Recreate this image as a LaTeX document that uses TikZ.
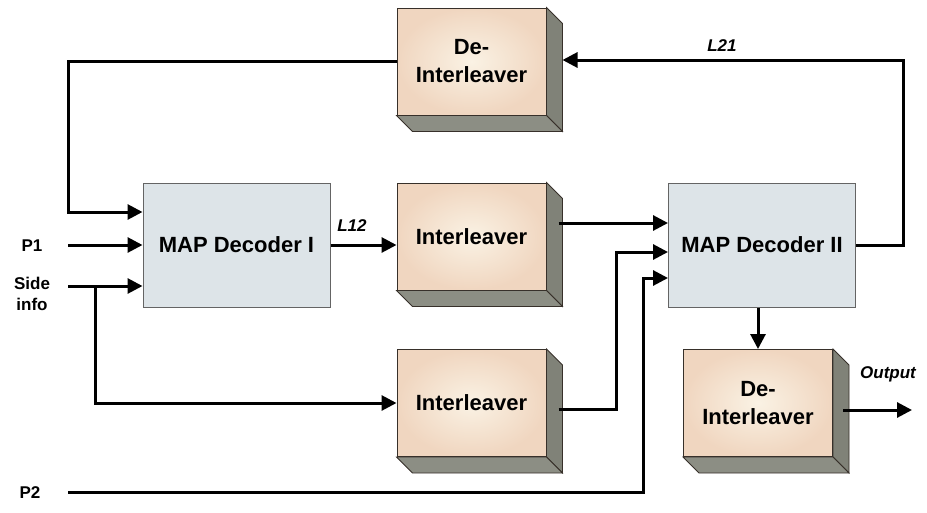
\documentclass[tikz,border=0pt]{standalone}
\usepackage{fontspec}
\setmainfont{Liberation Sans}
\usetikzlibrary{arrows.meta}
\definecolor{peach}{RGB}{240,214,192}
\definecolor{peachlight}{RGB}{250,242,228}
\definecolor{mapfill}{RGB}{221,228,232}
\definecolor{sidegray}{RGB}{128,130,120}
\definecolor{bottomgray}{RGB}{140,142,132}
\definecolor{edgecol}{RGB}{55,48,42}
\definecolor{mapedge}{RGB}{100,100,100}
\tikzset{
  blockbox/.style={draw=edgecol,line width=1pt,inner color=peachlight,outer color=peach,
    minimum width=149pt,minimum height=107pt,inner sep=0pt,align=center,
    font=\bfseries\fontsize{22}{28}\selectfont},
  mapbox/.style={draw=mapedge,line width=1pt,fill=mapfill,minimum width=187pt,minimum height=124pt,
    inner sep=0pt,font=\bfseries\fontsize{22}{27}\selectfont},
  lbl/.style={font=\bfseries\fontsize{17}{21}\selectfont,align=center,inner sep=0pt},
  ilbl/.style={font=\bfseries\itshape\fontsize{17}{21}\selectfont,inner sep=0pt},
  arr/.style={line width=3pt,-{Triangle[length=15pt,width=15pt]}},
  wire/.style={line width=3pt},
}
\newcommand{\boxsides}[1]{%
  \filldraw[fill=sidegray,draw=edgecol,line width=0.8pt] (#1.north east) -- ++(16,16) -- ([shift={(16,16)}]#1.south east) -- (#1.south east) -- cycle;
  \filldraw[fill=bottomgray,draw=edgecol,line width=0.8pt] (#1.south west) -- (#1.south east) -- ++(16,16) -- ([shift={(16,16)}]#1.south west) -- cycle;
}
\begin{document}
\begin{tikzpicture}[x=1pt,y=-1pt]
\useasboundingbox (0,0) rectangle (927,512);
% blocks
\node[blockbox] (deint1) at (471.5,61.5) {De-\\Interleaver};
\node[blockbox] (inter1) at (471.5,236.5) {Interleaver};
\node[blockbox] (inter2) at (471.5,403) {Interleaver};
\node[blockbox] (deint2) at (758,403) {De-\\Interleaver};
\boxsides{deint1}
\boxsides{inter1}
\boxsides{inter2}
\boxsides{deint2}
\node[mapbox] (map1) at (236.5,245) {MAP Decoder I};
\node[mapbox] (map2) at (762,245) {MAP Decoder II};
% labels
\node[lbl] (p1) at (32,246) {P1};
\node[lbl] (side) at (32,294) {Side\\info};
\node[lbl] (p2) at (30,493) {P2};
\node[ilbl] (l12) at (352,226) {L12};
\node[ilbl] (l21) at (722,46) {L21};
\node[ilbl] (outl) at (888,374) {Output};
% coordinates
\coordinate (d1r) at ([xshift=16pt,yshift=1.5pt]deint1.east);
\coordinate (i1o) at ([xshift=12pt,yshift=13.5pt]inter1.east);
\coordinate (i2o) at ([xshift=12pt,yshift=-6pt]inter2.east);
\coordinate (d2o) at ([xshift=10pt,yshift=-7pt]deint2.east);
\coordinate (outend) at (912,410);
\coordinate (p1s) at (68,245);
\coordinate (sis) at (68,286);
\coordinate (sib) at (95,286);
\coordinate (p2s) at (68,492);
% connectors
\draw[arr] (deint1.west) -| (68,212) -- (map1.west |- 68,212);
\draw[arr] (p1s) -- (map1.west |- p1s);
\draw[arr] (sis) -- (map1.west |- sis);
\draw[arr] (sib) |- (inter2.west);
\draw[arr] (map1.east) -- (map1.east -| inter1.west);
\draw[arr] (i1o) -- (i1o -| map2.west);
\draw[arr] (i2o) -| (616,252) -- (map2.west |- 616,252);
\draw[arr] (p2s) -| (643,278) -- (map2.west |- 643,278);
\draw[arr] (map2.east) -- (903,245) |- (d1r);
\draw[arr] (map2.south -| deint2.north) -- (deint2.north);
\draw[arr] (d2o) -- (outend);
\end{tikzpicture}
\end{document}
